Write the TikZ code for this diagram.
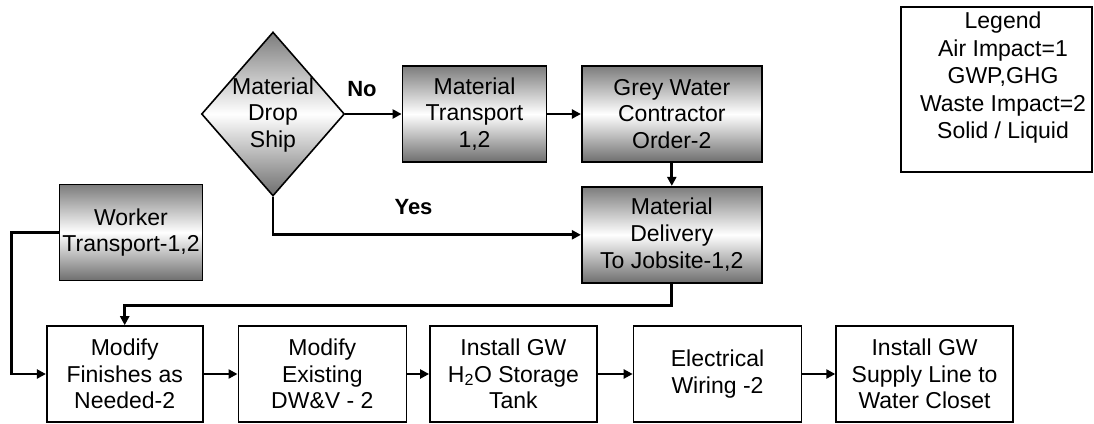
\documentclass[tikz,border=0pt]{standalone}
\usepackage{fontspec}
\setmainfont{Liberation Sans}
\usetikzlibrary{arrows.meta,positioning,shapes.geometric}
\definecolor{shadetop}{HTML}{7C7C7C}
\definecolor{shadebottom}{HTML}{6E6E6E}
\tikzset{
  shadebox/.style={
    draw=black,
    line width=1.8pt,
    top color=shadetop,
    bottom color=shadebottom,
    middle color=white,
    minimum height=96pt,
    inner sep=0pt,
    align=center,
    font=\fontsize{23}{26.7}\selectfont
  },
  plainbox/.style={
    draw=black,
    line width=1.6pt,
    fill=white,
    minimum height=96pt,
    inner sep=0pt,
    align=center,
    font=\fontsize{23}{26.7}\selectfont
  },
  decision/.style={
    diamond,
    draw=black,
    line width=1.6pt,
    top color=shadetop,
    bottom color=shadebottom,
    middle color=white,
    minimum width=143pt,
    minimum height=164pt,
    inner sep=0pt
  },
  legendbox/.style={
    draw=black,
    line width=1.6pt,
    minimum width=191pt,
    minimum height=165pt,
    inner sep=0pt
  },
  boxtext/.style={
    inner sep=0pt,
    align=center,
    font=\fontsize{23}{26.7}\selectfont
  },
  choice/.style={
    inner sep=0pt,
    font=\fontsize{22}{26}\selectfont\bfseries
  },
  arrow/.style={
    -{Triangle[length=9pt,width=9pt]},
    line width=2.8pt,
    draw=black
  }
}

\begin{document}
\begin{tikzpicture}[x=1pt, y=-1pt]
\useasboundingbox (0,0) rectangle (1094,423);

\node[decision] (drop) at (273,114) {};
\node[boxtext] (droptext) at (273,115) {Material\\Drop\\Ship};
\node[shadebox, minimum width=144pt] (transport) at (474.5,114) {Material\\Transport\\1,2};
\node[shadebox, minimum width=180pt, right=33.5pt of transport] (contractor) {Grey Water\\Contractor\\Order-2};
\node[shadebox, minimum width=180pt, below=23pt of contractor] (delivery) {Material\\Delivery\\To Jobsite-1,2};
\node[shadebox, minimum width=143pt] (worker) at (131,232.5) {Worker\\Transport-1,2};
\node[choice] (no) at (362,89) {No};
\node[choice] (yes) at (413.5,207) {Yes};

\node[plainbox, minimum width=156pt] (finishes) at (124.7,374) {Modify\\Finishes as\\Needed-2};
\node[plainbox, minimum width=168pt, right=34pt of finishes] (existing) {Modify\\Existing\\DW\&V - 2};
\node[plainbox, minimum width=167pt, right=22pt of existing] (tank) {Install GW\\H\textsubscript{2}O Storage\\Tank};
\node[plainbox, minimum width=168pt, right=35pt of tank] (wiring) {Electrical\\Wiring -2};
\node[plainbox, minimum width=177pt, right=33pt of wiring] (supply) {Install GW\\Supply Line to\\Water Closet};

\node[legendbox] (legend) at (996.5,89.5) {};
\node[boxtext, anchor=north, font=\fontsize{23}{27.5}\selectfont] (legendtext) at (1003,12) {Legend\\Air Impact=1\\GWP,GHG\\Waste Impact=2\\Solid / Liquid};

\draw[arrow] (drop.east) -- (transport.west);
\draw[arrow] (transport) -- (contractor);
\draw[arrow] (contractor) -- (delivery);
\draw[arrow] (drop.south) |- (delivery.west);
\draw[arrow] (delivery.south) -- ++(0,22) -| (finishes.north);
\draw[arrow] (worker.west) -- ++(-47,0) |- (finishes.west);
\draw[arrow] (finishes) -- (existing);
\draw[arrow] (existing) -- (tank);
\draw[arrow] (tank) -- (wiring);
\draw[arrow] (wiring) -- (supply);
\end{tikzpicture}
\end{document}
